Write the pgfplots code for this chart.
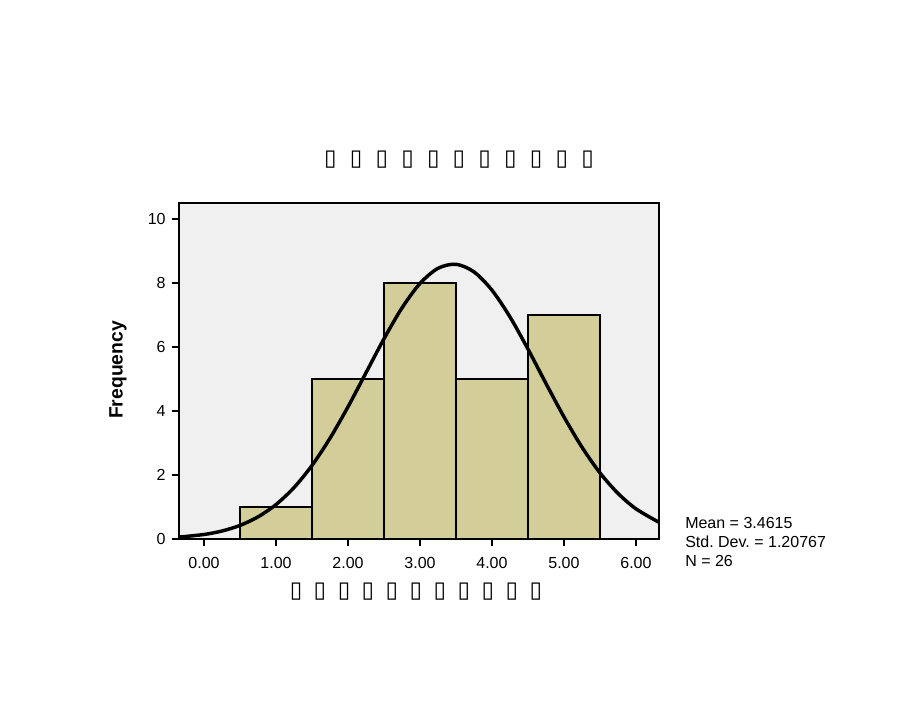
\documentclass[border=0pt]{standalone}
\usepackage{fontspec}
\setmainfont{Liberation Sans}
\newfontfamily\dv{DejaVu Sans}
\usepackage{pgfplots}
\pgfplotsset{compat=1.18}
\definecolor{barfill}{RGB}{211,206,153}
\definecolor{plotbg}{RGB}{240,240,240}
\newcommand{\bx}[1]{\makebox[#1]{\dv\bfseries\fontsize{17pt}{18pt}\selectfont ▯}}
\frenchspacing
\begin{document}
\begin{tikzpicture}
\useasboundingbox (-134.25pt,-129pt) rectangle (555.75pt,404.25pt);
\begin{axis}[
  at={(0,0)}, anchor=south west,
  scale only axis,
  width=360pt, height=252pt,
  xmin=-0.347, xmax=6.32,
  ymin=0, ymax=10.5,
  axis background/.style={fill=plotbg},
  axis line style={line width=0.9pt},
  xtick={0,1,2,3,4,5,6},
  ytick={0,2,4,6,8,10},
  xtick pos=left, ytick pos=left,
  tick align=outside,
  major tick length=5.5pt,
  tick style={line width=0.9pt, black},
  xticklabel style={yshift=-5pt, /pgf/number format/.cd, fixed, fixed zerofill, precision=2},
  yticklabel style={xshift=-1pt},
  /pgf/number format/assume math mode=true,
  ticklabel style={font=\fontsize{12pt}{13pt}\selectfont},
]
\addplot[ybar interval, fill=barfill, draw=black, line width=1.1pt]
  coordinates {(0.5,1) (1.5,5) (2.5,8) (3.5,5) (4.5,7) (5.5,7)};
\addplot[smooth, line width=2.6pt, black] coordinates {
  (-0.35,0.059) (0,0.141) (0.25,0.250) (0.5,0.425) (0.75,0.691)
  (1.0,1.076) (1.25,1.606) (1.5,2.297) (1.75,3.147) (2.0,4.130)
  (2.25,5.193) (2.5,6.256) (2.75,7.221) (3.0,7.984) (3.25,8.458)
  (3.5,8.585) (3.75,8.347) (4.0,7.776) (4.25,6.940) (4.5,5.934)
  (4.75,4.861) (5.0,3.816) (5.25,2.869) (5.5,2.066) (5.75,1.426)
  (6.0,0.943) (6.32,0.522)};
\end{axis}
% title and axis label (glyphs missing in the original)
\node at (210pt,284.25pt) {\bx{19.3pt}\bx{19.3pt}\bx{19.3pt}\bx{19.3pt}\bx{19.3pt}\bx{19.3pt}\bx{19.3pt}\bx{19.3pt}\bx{19.3pt}\bx{19.3pt}\bx{19.3pt}};
\node at (177.75pt,-39.75pt) {\bx{18pt}\bx{18pt}\bx{18pt}\bx{18pt}\bx{18pt}\bx{18pt}\bx{18pt}\bx{18pt}\bx{18pt}\bx{18pt}\bx{18pt}};
\node[rotate=90, font=\bfseries\fontsize{14.5pt}{16pt}\selectfont] at (-45.75pt,126.75pt) {Frequency};
\node[anchor=west, inner sep=0pt, align=left, font=\fontsize{12pt}{14.25pt}\selectfont] at (379.5pt,-2.25pt)
  {Mean = 3.4615\\Std. Dev. = 1.20767\\N = 26};
\end{tikzpicture}
\end{document}
